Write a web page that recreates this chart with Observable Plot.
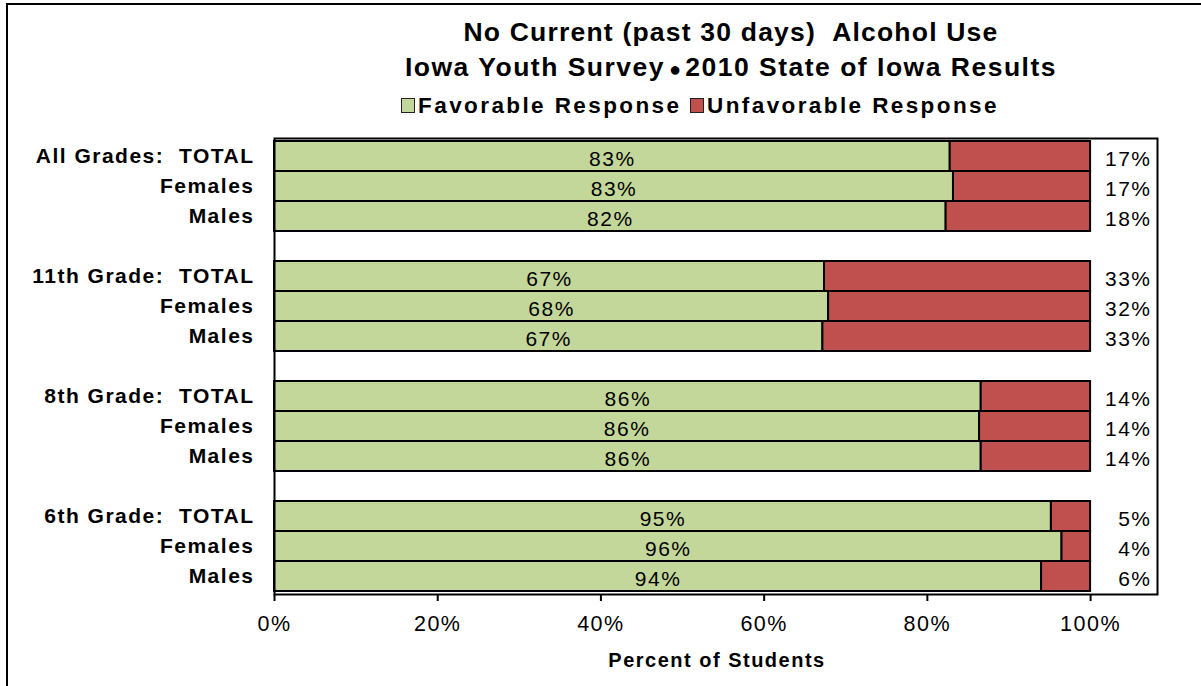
<!DOCTYPE html>
<html>
<head>
<meta charset="utf-8">
<script src="https://cdn.jsdelivr.net/npm/d3@7"></script>
<script src="https://cdn.jsdelivr.net/npm/@observablehq/plot@0.6"></script>
<style>
  html, body { margin: 0; padding: 0; background: #fff; }
  body { font-family: "Liberation Sans", Arial, sans-serif; }
  #wrap { position: relative; width: 1201px; height: 686px; overflow: hidden; }
  #border { position: absolute; left: 6px; top: 3px; width: 1300px; height: 800px;
            border-left: 2px solid #000; border-top: 2px solid #000; }
  .title { position: absolute; left: 0; width: 1462px; text-align: center;
           font-weight: bold; font-size: 26.5px; color: #000; white-space: nowrap; }
  #legend { position: absolute; left: 0; width: 1400px; top: 93px; text-align: center;
            font-weight: bold; font-size: 22.5px; white-space: nowrap; letter-spacing: 2.4px; }
  .sw { display: inline-block; width: 12px; height: 13px; border: 1.5px solid #222;
        margin-right: 3px; vertical-align: 0px; }
  #chart { position: absolute; left: 0; top: 130px; }
  #chart svg text { letter-spacing: 1.5px; }
</style>
</head>
<body>
<div id="wrap">
  <div id="border"></div>
  <div class="title" style="top:17px; letter-spacing:1.2px">No Current (past 30 days)&nbsp; Alcohol Use</div>
  <div class="title" style="top:52px; letter-spacing:1.5px">Iowa Youth Survey<span style="font-size:20px;letter-spacing:0">&thinsp;&#9679;&thinsp;</span>2010 State of Iowa Results</div>
  <div id="legend"></div>
  <div id="chart"></div>
</div>
<script>
// Row labels (blank rows separate the groups)
const rowLabels = [
  "All Grades:\u00a0\u00a0TOTAL", "Females", "Males", "",
  "11th Grade:\u00a0\u00a0TOTAL", "Females", "Males", "",
  "8th Grade:\u00a0\u00a0TOTAL", "Females", "Males", "",
  "6th Grade:\u00a0\u00a0TOTAL", "Females", "Males"
];
// Favorable response share (%), null for spacer rows
const favorable = [
  82.8, 83.2, 82.3, null,
  67.4, 67.9, 67.2, null,
  86.6, 86.4, 86.6, null,
  95.2, 96.5, 94.0
];
const favorableLabels = [
  "83%", "83%", "82%", "",
  "67%", "68%", "67%", "",
  "86%", "86%", "86%", "",
  "95%", "96%", "94%"
];
const unfavorableLabels = [
  "17%", "17%", "18%", "",
  "33%", "32%", "33%", "",
  "14%", "14%", "14%", "",
  "5%", "4%", "6%"
];
const seriesNames = ["Favorable Response", "Unfavorable Response"];
const seriesColors = ["#C4D79B", "#C0504D"];
const xTicks = [0, 20, 40, 60, 80, 100];

const rows = rowLabels.map((label, i) => ({
  id: "r" + i, label, fav: favorable[i],
  favLabel: favorableLabels[i], unfavLabel: unfavorableLabels[i]
}));
const bars = rows.filter(d => d.fav != null);
const idToLabel = new Map(rows.map(d => [d.id, d.label]));

// legend
const legend = document.getElementById("legend");
legend.innerHTML = seriesNames.map((n, i) =>
  `<span class="sw" style="background:${seriesColors[i]}"></span>${n}`).join(" ");

const plot = Plot.plot({
  width: 1201,
  height: 556,
  marginTop: 8,
  marginBottom: 92,
  marginLeft: 274,
  marginRight: 44,
  style: { fontFamily: "'Liberation Sans', Arial, sans-serif", color: "#000", background: "transparent" },
  x: { domain: [0, 108.2], ticks: xTicks, tickFormat: d => d + "%", label: null },
  y: { domain: rows.map(d => d.id), padding: 0, label: null },
  marks: [
    Plot.barX(bars, { y: "id", x1: 0, x2: "fav", fill: seriesColors[0], stroke: "#000", strokeWidth: 2, inset: 0 }),
    Plot.barX(bars, { y: "id", x1: "fav", x2: 100, fill: seriesColors[1], stroke: "#000", strokeWidth: 2, inset: 0 }),
    Plot.text(bars, { y: "id", x: d => d.fav / 2, text: "favLabel", fontSize: 21, dy: 3, fill: "#000" }),
    Plot.text(bars, { y: "id", frameAnchor: "right", text: "unfavLabel", textAnchor: "end", dx: -6, dy: 3, fontSize: 21, fill: "#000" }),
    Plot.frame({ stroke: "#000", strokeWidth: 2 }),
    Plot.axisY({ tickSize: 0, tickPadding: 20, tickFormat: d => idToLabel.get(d), fontSize: 21, fontWeight: "bold", label: null }),
    Plot.axisX({ ticks: xTicks, tickSize: 7, tickPadding: 14, tickFormat: d => d + "%", fontSize: 21.5, label: null, strokeWidth: 2 }),
    Plot.text(["Percent of Students"], { frameAnchor: "bottom", dy: 72, fontSize: 20, fontWeight: "bold", fill: "#000", dx: 1 })
  ]
});
document.getElementById("chart").appendChild(plot);
</script>
</body>
</html>
